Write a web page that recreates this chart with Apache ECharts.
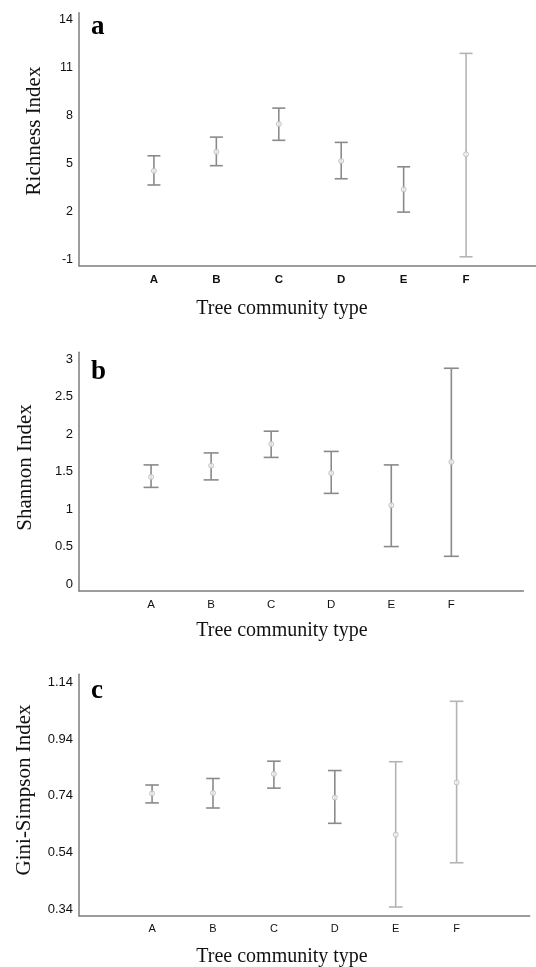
<!DOCTYPE html>
<html>
<head>
<meta charset="utf-8">
<script src="https://cdn.jsdelivr.net/npm/echarts@6/dist/echarts.min.js"></script>
<style>
html,body{margin:0;padding:0;background:#fff;}
#chart{width:536px;height:967px;}
</style>
</head>
<body>
<div id="chart"></div>
<script>
// ---- data ----
var categories = ['A', 'B', 'C', 'D', 'E', 'F'];

var richnessMean = [4.55, 5.74, 7.48, 5.16, 3.38, 5.58];
var richnessLow  = [3.66, 4.87, 6.46, 4.05, 1.96, -0.84];
var richnessHigh = [5.49, 6.66, 8.48, 6.33, 4.80, 11.91];

var shannonMean = [1.43, 1.58, 1.87, 1.48, 1.05, 1.63];
var shannonLow  = [1.29, 1.39, 1.69, 1.21, 0.50, 0.37];
var shannonHigh = [1.59, 1.75, 2.04, 1.77, 1.59, 2.88];

var giniMean = [0.748, 0.750, 0.817, 0.734, 0.603, 0.787];
var giniLow  = [0.715, 0.697, 0.767, 0.643, 0.348, 0.504];
var giniHigh = [0.778, 0.801, 0.862, 0.829, 0.860, 1.073];

var richnessTicks = [-1, 2, 5, 8, 11, 14];
var shannonTicks = [0, 0.5, 1, 1.5, 2, 2.5, 3];
var giniTicks = [0.34, 0.54, 0.74, 0.94, 1.14];

var panelLetters = ['a', 'b', 'c'];
var yTitles = ['Richness Index', 'Shannon Index', 'Gini-Simpson Index'];
var xTitle = 'Tree community type';

// ---- layout / style ----
var catPos = categories.map(function (c, i) { return i + 1; });
var panels = [
  { mean: richnessMean, low: richnessLow, high: richnessHigh, ticks: richnessTicks,
    grid: { left: 79, top: 12.7, height: 253, width: 457 }, xMax: 7.12, yMin: -1.40, yMax: 14.46,
    labelSize: 12.5, xLabelSize: 11.5, xBold: true, light: [5], cap: 6.5,
    letterY: 27, yTitleX: 34, yTitleY: 131, xTitleY: 308.5 },
  { mean: shannonMean, low: shannonLow, high: shannonHigh, ticks: shannonTicks,
    grid: { left: 79, top: 352.3, height: 238.7, width: 444.4 }, xMax: 7.2, yMin: -0.093, yMax: 3.093,
    labelSize: 13, xLabelSize: 11.5, xBold: false, light: [], cap: 7.5,
    letterY: 372, yTitleX: 25, yTitleY: 467.5, xTitleY: 631 },
  { mean: giniMean, low: giniLow, high: giniHigh, ticks: giniTicks,
    grid: { left: 79, top: 674.3, height: 241.4, width: 450.7 }, xMax: 7.2, yMin: 0.3174, yMax: 1.1682,
    labelSize: 13, xLabelSize: 11, xBold: false, light: [4, 5], cap: 6.8,
    letterY: 691, yTitleX: 24, yTitleY: 790, xTitleY: 957 }
];

var axisColor = '#7d7d7d';
var grids = [], xAxes = [], yAxes = [], series = [], graphics = [];

panels.forEach(function (p, k) {
  grids.push(p.grid);
  xAxes.push({
    type: 'value', gridIndex: k, min: -0.2, max: p.xMax,
    axisLine: { show: true, onZero: false, lineStyle: { color: axisColor, width: 1.5 } },
    axisTick: { show: false }, splitLine: { show: false },
    axisLabel: {
      customValues: catPos, margin: 8,
      color: '#111', fontFamily: 'Liberation Sans, Arial, sans-serif',
      fontSize: p.xLabelSize, fontWeight: p.xBold ? 'bold' : 'normal',
      formatter: function (v) { return categories[Math.round(v) - 1]; }
    }
  });
  yAxes.push({
    type: 'value', gridIndex: k, min: p.yMin, max: p.yMax,
    axisLine: { show: true, onZero: false, lineStyle: { color: axisColor, width: 1.5 } },
    axisTick: { show: false }, splitLine: { show: false },
    axisLabel: {
      customValues: p.ticks, margin: 6, showMinLabel: true, showMaxLabel: true,
      color: '#111', fontFamily: 'Liberation Sans, Arial, sans-serif', fontSize: p.labelSize
    }
  });

  var barData = categories.map(function (c, i) { return [catPos[i], p.low[i], p.high[i]]; });
  var meanData = categories.map(function (c, i) { return [catPos[i], p.mean[i]]; });
  var lightSet = p.light;
  var capHalf = p.cap;

  series.push({
    type: 'custom', xAxisIndex: k, yAxisIndex: k, data: barData, silent: true,
    renderItem: function (params, api) {
      var x = api.value(0);
      var lo = api.coord([x, api.value(1)]);
      var hi = api.coord([x, api.value(2)]);
      var col = lightSet.indexOf(params.dataIndex) >= 0 ? '#b4b4b4' : '#8a8a8a';
      var st = { stroke: col, lineWidth: 1.6, fill: null };
      return {
        type: 'group',
        children: [
          { type: 'line', shape: { x1: hi[0], y1: hi[1], x2: lo[0], y2: lo[1] }, style: st },
          { type: 'line', shape: { x1: hi[0] - capHalf, y1: hi[1], x2: hi[0] + capHalf, y2: hi[1] }, style: st },
          { type: 'line', shape: { x1: lo[0] - capHalf, y1: lo[1], x2: lo[0] + capHalf, y2: lo[1] }, style: st }
        ]
      };
    },
    z: 2
  });
  series.push({
    type: 'scatter', xAxisIndex: k, yAxisIndex: k, data: meanData, silent: true,
    symbol: 'circle', symbolSize: 5,
    itemStyle: { color: '#f2f2f2', borderColor: '#b8b8b8', borderWidth: 1 },
    z: 3
  });

  graphics.push({
    type: 'text', x: 91, y: p.letterY,
    style: { text: panelLetters[k], font: 'bold 27px "Liberation Serif", "Times New Roman", serif',
             fill: '#000', textAlign: 'left', textVerticalAlign: 'middle' }
  });
  graphics.push({
    type: 'text', x: p.yTitleX, y: p.yTitleY, rotation: Math.PI / 2,
    style: { text: yTitles[k], font: '21px "Liberation Serif", "Times New Roman", serif',
             fill: '#111', textAlign: 'center', textVerticalAlign: 'middle' }
  });
  graphics.push({
    type: 'text', x: 282, y: p.xTitleY,
    style: { text: xTitle, font: '20px "Liberation Serif", "Times New Roman", serif',
             fill: '#111', textAlign: 'center', textVerticalAlign: 'middle' }
  });
});

var chart = echarts.init(document.getElementById('chart'), null, { renderer: 'canvas' });
chart.setOption({
  animation: false,
  backgroundColor: '#ffffff',
  grid: grids,
  xAxis: xAxes,
  yAxis: yAxes,
  series: series,
  graphic: graphics
});
</script>
</body>
</html>
